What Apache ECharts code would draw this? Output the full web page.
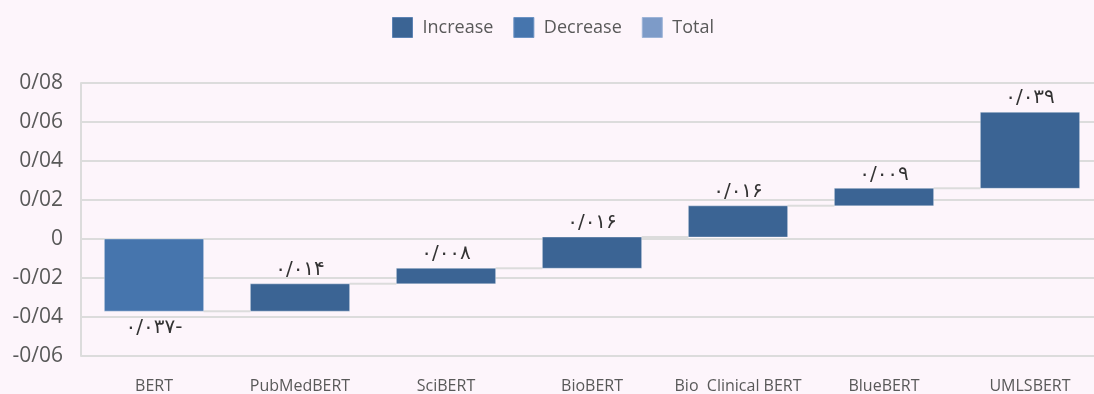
<!DOCTYPE html>
<html>
<head>
<meta charset="utf-8">
<script src="https://cdn.jsdelivr.net/npm/echarts@6/dist/echarts.min.js"></script>
<style>
  html, body { margin: 0; padding: 0; background: #fdf5fb; overflow: hidden; width: 1094px; height: 394px; }
  /* the plot runs slightly past the right page edge, so the canvas is a little wider than the page */
  #chart { width: 1103px; height: 394px; }
</style>
</head>
<body>
<div id="chart"></div>
<script>
// Model names along the x axis
const categories = ['BERT', 'PubMedBERT', 'SciBERT', 'BioBERT', 'Bio  Clinical BERT', 'BlueBERT', 'UMLSBERT'];
// Change contributed by each step of the waterfall
const changes = [-0.037, 0.014, 0.008, 0.016, 0.016, 0.009, 0.039];
// Value-axis range and step
const yMin = -0.06;
const yMax = 0.08;
const yStep = 0.02;

const COLORS = { increase: '#3b6494', decrease: '#4675ad', total: '#7d9bc8' };
const GRID = '#dcdcdc';

// Running start/end of every step
const steps = [];
let running = 0;
changes.forEach(function (c, i) {
  const start = running;
  running = +(running + c).toFixed(6);
  steps.push({ i: i, start: start, end: running, change: c });
});

const PERSIAN = ['۰', '۱', '۲', '۳', '۴', '۵', '۶', '۷', '۸', '۹'];
function faNumber(v) {
  const s = Math.abs(v).toFixed(3).replace('.', '/').replace(/[0-9]/g, function (d) { return PERSIAN[+d]; });
  return v < 0 ? s + '-' : s;
}

function renderStep(params, api) {
  const i = api.value(0);
  const start = api.value(1);
  const end = api.value(2);
  const change = api.value(3);
  const p0 = api.coord([i, start]);
  const p1 = api.coord([i, end]);
  const bw = api.size([1, 0])[0] * 0.68;
  const children = [];
  if (i < categories.length - 1) {
    const nx = api.coord([i + 1, end])[0];
    children.push({
      type: 'line',
      shape: { x1: p0[0] + bw / 2, y1: p1[1], x2: nx - bw / 2, y2: p1[1] },
      style: { stroke: GRID, lineWidth: 2 }
    });
  }
  const color = change >= 0 ? COLORS.increase : COLORS.decrease;
  children.push({
    type: 'rect',
    shape: { x: p0[0] - bw / 2, y: Math.min(p0[1], p1[1]), width: bw, height: Math.abs(p1[1] - p0[1]) },
    style: { fill: color, stroke: 'rgba(255,255,255,0.35)', lineWidth: 1 }
  });
  children.push({
    type: 'text',
    style: {
      text: faNumber(change),
      x: p0[0],
      y: change >= 0 ? p1[1] - 4 : p1[1] + 7,
      align: 'center',
      verticalAlign: change >= 0 ? 'bottom' : 'top',
      font: '20px "DejaVu Sans", sans-serif',
      fill: '#333333'
    }
  });
  return { type: 'group', children: children };
}

function toItems(filterFn) {
  return steps.filter(filterFn).map(function (s) { return [s.i, s.start, s.end, s.change]; });
}

const chart = echarts.init(document.getElementById('chart'), null, { renderer: 'canvas' });
chart.setOption({
  backgroundColor: '#fdf5fb',
  animation: false,
  legend: {
    top: 12,
    left: 387,
    itemWidth: 20,
    itemHeight: 20,
    itemGap: 20,
    icon: 'rect',
    textStyle: { fontFamily: '"Open Sans", sans-serif', fontSize: 18, color: '#595959', padding: [0, 0, 0, 5] },
    data: [
      { name: 'Increase', itemStyle: { color: COLORS.increase, borderColor: '#5c82b3', borderWidth: 1 } },
      { name: 'Decrease', itemStyle: { color: COLORS.decrease, borderColor: '#6b92c4', borderWidth: 1 } },
      { name: 'Total', itemStyle: { color: COLORS.total, borderColor: '#9db4d8', borderWidth: 1 } }
    ]
  },
  grid: { left: 81, top: 83, width: 1022, height: 274, containLabel: false },
  xAxis: {
    type: 'category',
    data: categories,
    axisLine: { show: false },
    axisTick: { show: false },
    axisLabel: { margin: 22, interval: 0, fontFamily: '"Open Sans", sans-serif', fontSize: 16, color: '#595959' }
  },
  yAxis: {
    type: 'value',
    min: yMin,
    max: yMax,
    interval: yStep,
    axisLine: { show: true, lineStyle: { color: GRID, width: 2 } },
    axisTick: { show: false },
    splitLine: { lineStyle: { color: GRID, width: 2 } },
    axisLabel: {
      margin: 18,
      fontFamily: '"Open Sans", sans-serif',
      fontSize: 21,
      color: '#595959',
      formatter: function (v) {
        if (Math.abs(v) < 1e-9) return '0';
        return v.toFixed(2).replace('.', '/');
      }
    }
  },
  series: [
    {
      name: 'Increase',
      type: 'custom',
      renderItem: renderStep,
      itemStyle: { color: COLORS.increase },
      encode: { x: 0, y: [1, 2] },
      data: toItems(function (s) { return s.change >= 0; }),
      z: 2
    },
    {
      name: 'Decrease',
      type: 'custom',
      renderItem: renderStep,
      itemStyle: { color: COLORS.decrease },
      encode: { x: 0, y: [1, 2] },
      data: toItems(function (s) { return s.change < 0; }),
      z: 2
    },
    {
      name: 'Total',
      type: 'bar',
      itemStyle: { color: COLORS.total },
      data: []
    }
  ]
});
</script>
</body>
</html>
